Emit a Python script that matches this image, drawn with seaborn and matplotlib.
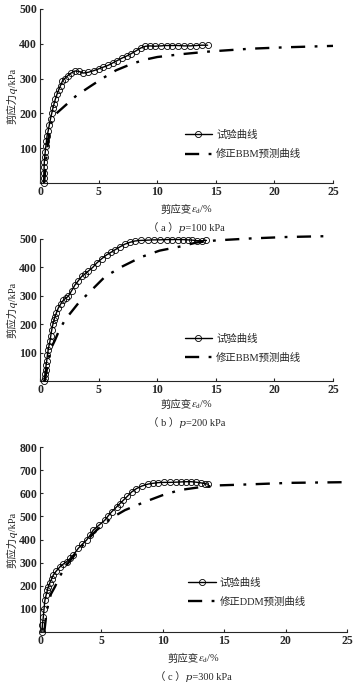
import matplotlib
matplotlib.use('Agg')
import matplotlib.pyplot as plt
from matplotlib.offsetbox import TextArea, HPacker, AnchoredOffsetbox
import numpy as np
import pandas as pd
import seaborn as sns

# panel (a) p=100 kPa
a_test_x = [0.3, 0.32, 0.33, 0.35, 0.37, 0.4, 0.45, 0.5, 0.55, 0.6, 0.7, 0.8, 0.9, 1.0, 1.1, 1.2,
            1.3, 1.45, 1.6, 1.75, 1.9, 2.1, 2.35, 2.65, 3.0, 3.3, 3.7, 4.1, 4.6, 5.0, 5.4, 5.8,
            6.2, 6.6, 7.0, 7.4, 7.8, 8.2, 8.6, 9.0, 9.4, 9.8, 10.3, 10.8, 11.3, 11.8, 12.3,
            12.8, 13.3, 13.8, 14.3]
a_test_y = [0, 15, 30, 45, 60, 75, 90, 105, 120, 135, 150, 168, 185, 200, 215, 228,
            240, 255, 268, 280, 292, 300, 308, 316, 322, 321, 316, 318, 323, 328, 333, 338,
            345, 352, 359, 365, 372, 380, 388, 393, 394, 393, 394, 395, 395, 395, 394,
            394, 395, 396, 396]
a_model_x = [0.35, 0.5, 0.7, 0.9, 1.1, 1.5, 2.0, 3.1, 4.3, 5.4, 6.5, 7.8, 8.9, 10.0, 12.0, 14.5, 18.0, 21.0, 25.0]
a_model_y = [0, 60, 120, 165, 188, 203, 218, 251, 278, 302, 324, 342, 354, 362, 370, 378, 386, 390, 394]

# panel (b) p=200 kPa
b_test_x = [0.35, 0.4, 0.43, 0.47, 0.52, 0.57, 0.63, 0.7, 0.77, 0.85, 0.92, 1.0, 1.1, 1.2, 1.28,
            1.4, 1.56, 1.75, 2.0, 2.2, 2.41, 2.7, 2.98, 3.25, 3.55, 3.85, 4.12, 4.5, 4.83, 5.25,
            5.68, 6.05, 6.4, 6.85, 7.25, 7.65, 8.1, 8.6, 9.2, 9.7, 10.2, 10.8, 11.3, 11.8, 12.2,
            12.6, 13.0, 13.4, 13.8, 14.2]
b_test_y = [0, 11, 25, 40, 55, 70, 90, 110, 125, 140, 160, 180, 200, 215, 227,
            240, 257, 270, 285, 292, 298, 318, 338, 352, 368, 377, 387, 400, 415, 430,
            444, 453, 462, 473, 482, 488, 493, 495, 496, 497, 497, 498, 498, 498, 498,
            497, 496, 494, 494, 495]
b_model_x = [0.4, 0.6, 0.8, 1.0, 1.28, 1.6, 2.13, 3.27, 4.4, 5.54, 6.96, 8.67, 10.2, 11.9, 13.4, 15.0, 18.0, 21.0, 24.5]
b_model_y = [0, 45, 90, 120, 144, 175, 215, 274, 320, 367, 402, 437, 459, 473, 488, 495, 502, 507, 510]

# panel (c) p=300 kPa
c_test_x = [0.15, 0.2, 0.27, 0.33, 0.4, 0.5, 0.6, 0.68, 0.8, 0.95, 1.08, 1.3, 1.63, 1.9, 2.17,
            2.45, 2.71, 3.12, 3.45, 3.8, 4.1, 4.34, 4.8, 5.29, 5.55, 5.84, 6.24, 6.5, 6.79, 7.1,
            7.47, 7.85, 8.28, 8.82, 9.2, 9.63, 10.1, 10.6, 11.1, 11.5, 11.9, 12.3, 12.7, 13.1,
            13.4, 13.7]
c_test_y = [0, 30, 66, 100, 138, 160, 180, 196, 212, 230, 246, 262, 282, 294, 304,
            318, 333, 362, 380, 398, 420, 441, 462, 484, 502, 520, 541, 555, 570, 586,
            606, 620, 631, 640, 643, 646, 647, 647, 648, 649, 650, 650, 648, 645,
            642, 639]
c_model_x = [0.35, 0.5, 0.7, 0.9, 1.22, 1.6, 2.17, 3.0, 3.8, 4.6, 5.3, 5.97, 6.92, 8.55, 10.0, 11.4, 13.0, 14.5, 16.3, 20.4, 25.0]
c_model_y = [0, 70, 130, 165, 196, 240, 290, 345, 395, 440, 470, 498, 527, 563, 592, 614, 626, 634, 637, 645, 648]

panels = [
    dict(tx=a_test_x, ty=a_test_y, mx=a_model_x, my=a_model_y, ymax=500,
         model_label='修正BBM预测曲线', letter='a', p=100),
    dict(tx=b_test_x, ty=b_test_y, mx=b_model_x, my=b_model_y, ymax=500,
         model_label='修正BBM预测曲线', letter='b', p=200),
    dict(tx=c_test_x, ty=c_test_y, mx=c_model_x, my=c_model_y, ymax=800,
         model_label='修正DDM预测曲线', letter='c', p=300),
]

sns.set_style('ticks')
FAMILY = ['Liberation Serif', 'Noto Sans CJK SC', 'DejaVu Serif']
plt.rcParams['font.family'] = FAMILY
plt.rcParams['mathtext.fontset'] = 'stix'

W, H = 358, 688
fig = plt.figure(figsize=(W / 100, H / 100), dpi=100)

# axes boxes in pixels: left, right, top, bottom
boxes = [(40, 333, 9, 183), (40, 333, 239, 381), (40, 347, 447, 632)]
xlabel_y = [210, 405, 659]
caption_y = [228, 423, 677]
legend_anchor = [(0.48, 0.22), (0.48, 0.23), (0.47, 0.215)]

for i, (p, (l, r, t, b)) in enumerate(zip(panels, boxes)):
    ax = fig.add_axes([l / W, 1 - b / H, (r - l) / W, (b - t) / H])
    test = pd.DataFrame({'x': p['tx'], 'y': p['ty']})
    model = pd.DataFrame({'x': p['mx'], 'y': p['my']})
    sns.lineplot(data=test, x='x', y='y', ax=ax, sort=False, estimator=None,
                 color='black', lw=1.0, marker='o', markersize=4.4,
                 markerfacecolor='none', markeredgecolor='black', markeredgewidth=0.6,
                 label='试验曲线', clip_on=False, zorder=3)
    sns.lineplot(data=model, x='x', y='y', ax=ax, sort=False, estimator=None,
                 color='black', lw=1.7, linestyle=(0, (6, 4, 1.2, 4)),
                 label=p['model_label'], clip_on=False, zorder=2)
    ax.set_xlim(0, 25)
    ax.set_ylim(0, p['ymax'])
    ax.set_xticks(range(0, 26, 5))
    yt = list(range(100, p['ymax'] + 1, 100))
    ax.set_yticks(yt)
    ax.set_yticklabels([str(v) for v in yt])
    ax.tick_params(direction='in', length=2.5, width=0.8, labelsize=8.5, pad=2)
    for lab in ax.get_xticklabels() + ax.get_yticklabels():
        lab.set_fontweight('bold')
    sns.despine(ax=ax)
    for s in ['left', 'bottom']:
        ax.spines[s].set_linewidth(0.8)
    ax.set_xlabel('')
    ax.set_ylabel('剪应力𝑞/kPa', fontsize=7.5, labelpad=1.5)

    # x label: Chinese part + math part packed side by side
    xl = HPacker(children=[TextArea('剪应变', textprops=dict(fontsize=7.5)),
                           TextArea('$\\varepsilon_{\\mathrm{d}}$/%', textprops=dict(fontsize=7.5))],
                 sep=0, pad=0, align='baseline')
    box = AnchoredOffsetbox(loc='center', child=xl, frameon=False, pad=0, borderpad=0,
                            bbox_to_anchor=((l + r) / 2 / W, 1 - xlabel_y[i] / H),
                            bbox_transform=fig.transFigure)
    fig.add_artist(box)
    fig.text((l + r) / 2 / W, 1 - caption_y[i] / H,
             '（ %s ）𝑝=%d kPa' % (p['letter'], p['p']),
             ha='center', va='center', fontsize=7.5)
    ax.legend(loc='center left', bbox_to_anchor=legend_anchor[i], frameon=False,
              fontsize=7.5, handlelength=2.6, labelspacing=0.9, handletextpad=0.4,
              borderaxespad=0)

fig.savefig('out.png', dpi=100)
